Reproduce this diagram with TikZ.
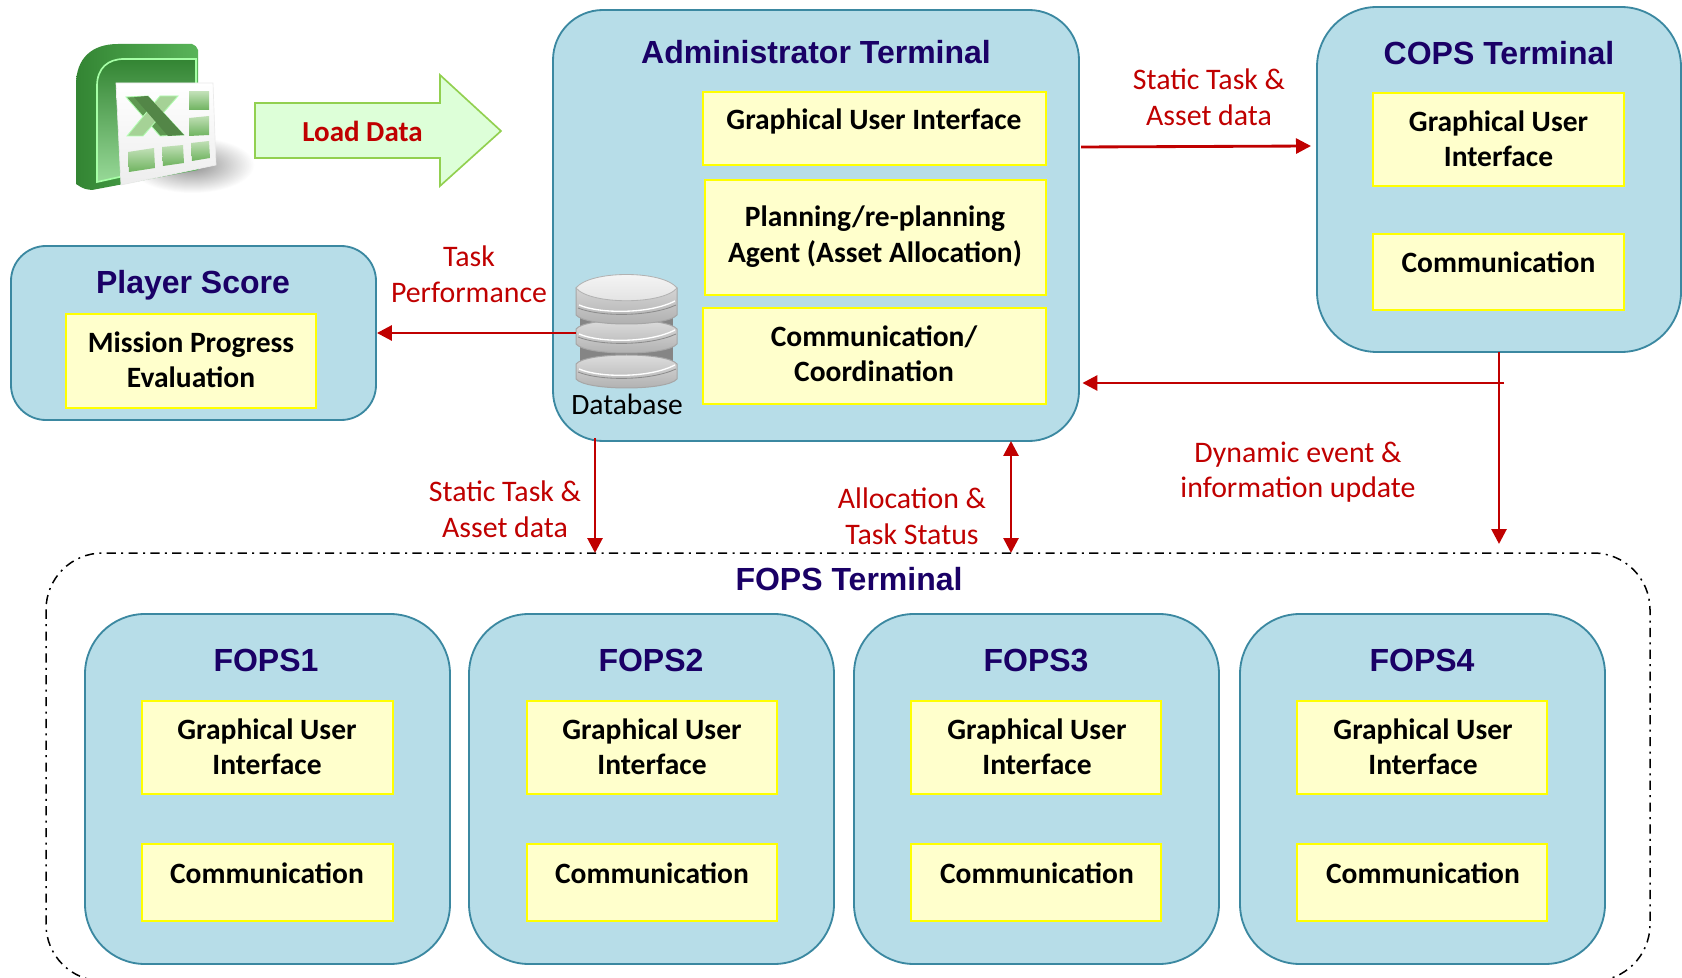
\documentclass[tikz,border=0pt]{standalone}
\usepackage{fontspec}
\setmainfont{Carlito}
\newfontfamily\titlefont{Liberation Sans}
\usetikzlibrary{arrows.meta,calc}
\definecolor{panelfill}{HTML}{B7DDE8}
\definecolor{paneledge}{HTML}{3B88A1}
\definecolor{boxfill}{HTML}{FFFFCC}
\definecolor{boxedge}{HTML}{FFFF00}
\definecolor{titleblue}{HTML}{1A0066}
\definecolor{linkred}{HTML}{C00000}
\definecolor{loadfill}{HTML}{DDFFD8}
\definecolor{loadedge}{HTML}{92D050}
\definecolor{cellgreen}{HTML}{A5D296}
\definecolor{celldark}{HTML}{6FB35F}
\tikzset{
  panelbox/.style={draw=paneledge,fill=panelfill,line width=1.1pt,inner sep=0pt},
  yellowbox/.style={draw=boxedge,fill=boxfill,line width=1.3pt,rectangle,inner sep=0pt},
  paneltitle/.style={font=\titlefont\bfseries\fontsize{19.2}{23}\selectfont,text=titleblue,inner sep=0pt},
  boxtext/.style={font=\bfseries\fontsize{17.7}{21.3}\selectfont,text=black,align=center,inner sep=0pt},
  linktext/.style={font=\fontsize{17.9}{21.3}\selectfont,text=linkred,align=center,inner sep=0pt},
  redlink/.style={draw=linkred,line width=1.7pt,-{Triangle[length=9pt,width=9pt]}},
  redlinktwo/.style={draw=linkred,line width=1.7pt,{Triangle[length=9pt,width=9pt]}-{Triangle[length=9pt,width=9pt]}},
}
% name, x1, y1, x2, y2 in reference pixels, extra options
\newcommand{\pxnode}[6]{%
  \pgfmathsetmacro{\pw}{(#4-#2)*0.6}\pgfmathsetmacro{\ph}{(#5-#3)*0.6}%
  \pgfmathsetmacro{\pcx}{(#2+#4)/2}\pgfmathsetmacro{\pcy}{(#3+#5)/2}%
  \node[#6,minimum width=\pw pt,minimum height=\ph pt] (#1) at (\pcx,\pcy) {};}
% one database platter: top y, bottom y
\newcommand{\platter}[2]{%
  \pgfmathsetmacro{\pa}{#1+12}\pgfmathsetmacro{\pb}{#2-12}\pgfmathsetmacro{\pc}{#1+24}%
  \pgfmathsetmacro{\pd}{#2-22}%
  \shade[top color=white!88!black,bottom color=black!32,draw=black!35,line width=0.6pt]
    (576,\pa) -- (576,\pb) .. controls (586,#2) and (667,#2) .. (677,\pb) -- (677,\pa)
    .. controls (667,#1) and (586,#1) .. (576,\pa) -- cycle;
  \draw[white,line width=0.8pt] (579,\pd) .. controls (600,{\pd+9}) and (650,{\pd+9}) .. (675,\pd-4);
  \draw[black!45,line width=0.5pt] (578,\pd+3) .. controls (600,{\pd+12}) and (650,{\pd+12}) .. (676,\pd);
}
% a spreadsheet cell as a slanted quadrilateral
\newcommand{\sheetcell}[8]{\shade[top color=cellgreen!70!white,bottom color=celldark] (#1,#2) -- (#3,#4) -- (#5,#6) -- (#7,#8) -- cycle;}
\begin{document}
\begin{tikzpicture}[x=0.6pt,y=-0.6pt]
\clip (0,0) rectangle (1682,978);
\fill[white] (0,0) rectangle (1682,978);

% FOPS terminal frame
\draw[black,line width=0.9pt,dash pattern=on 5.5pt off 3.2pt on 1.2pt off 3.2pt,rounded corners=34pt]
  (46,553) rectangle (1650,981);
\coordinate (fopstop) at (848,553);
\node[paneltitle] (fopsterm) at (849,579.5) {FOPS Terminal};

% Excel icon
\shade[inner color=black!55,outer color=white,opacity=.8] (192,165) ellipse [x radius=62,y radius=28];
\shade[left color=green!40!black!80!white,right color=green!55!black!65!white]
  (76,184) -- (76,85) .. controls (76,58) and (92,44) .. (118,44) -- (192,44) .. controls (196,46) .. (198,50) -- (198,170) -- (92,190) .. controls (84,189) .. (76,184) -- cycle;
\shade[top color=green!40!black!80!white,bottom color=green!30!white!85!black,draw=white!65!green,line width=1pt]
  (97,182) -- (97,86) .. controls (97,68) and (108,59) .. (124,59) -- (196,59) -- (196,160) -- cycle;
\shade[top color=white,bottom color=black!7,draw=black!8] (116,83) -- (213,83) -- (216,165) -- (121,185) -- cycle;
% the X
\draw[fill=celldark!85!black,draw=white!70!green,line width=0.5pt] (126,97) -- (148,96) -- (184,135) -- (160,136) -- cycle;
\draw[fill=cellgreen,draw=white!70!green,line width=0.5pt] (178,96) -- (160,96) -- (127,136) -- (143,136) -- cycle;
\draw[fill=celldark!75!black,draw=none] (134,97) -- (148,96) -- (184,135) -- (168,136) -- cycle;
% cells
\sheetcell{189}{92}{209}{92}{209}{110}{189}{110}
\sheetcell{189}{118}{209}{116}{209}{135}{189}{136}
\sheetcell{191}{143}{209}{141}{210}{158}{192}{161}
\sheetcell{162}{147}{183}{145}{184}{163}{163}{166}
\sheetcell{128}{152}{154}{148}{155}{168}{129}{172}

% Load Data arrow
\draw[draw=loadedge,fill=loadfill,line width=1pt]
  (255,103) -- (440,103) -- (440,75) -- (501,131) -- (440,186) -- (440,158) -- (255,158) -- cycle;
\node[font=\bfseries\fontsize{17.4}{21}\selectfont,text=linkred,inner sep=0pt] (loadlabel) at (362.5,131) {Load Data};

% Administrator terminal
\pxnode{admin}{553}{10}{1079}{441}{panelbox,rounded corners=30pt}
\node[paneltitle] (admintitle) at (816,52) {Administrator Terminal};
\pxnode{agui}{703}{92}{1046}{165}{yellowbox}
\node[boxtext] (aguit) at (874,121) {Graphical User Interface};
\pxnode{aplan}{705}{180}{1046}{295}{yellowbox}
\node[boxtext] (aplant) at (875,236.5) {Planning/re-planning\\Agent (Asset Allocation)};
\pxnode{acomm}{703}{308}{1046}{404}{yellowbox}
\node[boxtext] (acommt) at (874,353.5) {Communication/\\Coordination};

% Database
\pxnode{db}{576}{276}{677}{390}{inner sep=0pt}
\fill[black!48] (580,310) rectangle (673,335);
\fill[black!48] (580,345) rectangle (673,365);
\platter{352}{391}
\platter{317}{356}
\platter{276}{327}
\shade[top color=white!97!black,bottom color=black!12,draw=black!30,line width=0.5pt]
  (576,288) .. controls (590,270) and (663,270) .. (677,288) .. controls (663,305) and (590,305) .. (576,288) -- cycle;
\node[font=\fontsize{17.7}{21}\selectfont,text=black,inner sep=0pt] (dbname) at (627,404) {Database};

% COPS terminal
\pxnode{cops}{1317}{7}{1681}{352}{panelbox,rounded corners=36pt}
\node[paneltitle] (copstitle) at (1499,53) {COPS Terminal};
\pxnode{cgui}{1373}{93}{1624}{186}{yellowbox}
\node[boxtext] (cguit) at (1498.5,139) {Graphical User\\Interface};
\pxnode{ccomm}{1373}{234}{1624}{310}{yellowbox}
\node[boxtext] (ccommt) at (1498.5,262) {Communication};

% Player score
\pxnode{player}{11}{246}{376}{420}{panelbox,rounded corners=21pt}
\node[paneltitle] (playertitle) at (193,285) {Player Score};
\pxnode{pmission}{66}{314}{316}{408}{yellowbox}
\node[boxtext] (pmissiont) at (191,360) {Mission Progress\\Evaluation};

% FOPS panels
\foreach \nm/\xa/\xb/\bxa/\bxb/\ttl in {1/85/450/142/393/266,2/469/834/527/777/651,3/854/1219/911/1161/1036,4/1240/1605/1297/1547/1422}{
  \pxnode{fops\nm}{\xa}{614}{\xb}{964}{panelbox,rounded corners=36pt}
  \node[paneltitle] (fops\nm title) at (\ttl,660.5) {FOPS\nm};
  \pxnode{fops\nm gui}{\bxa}{701}{\bxb}{794}{yellowbox}
  \node[boxtext] (fops\nm guit) at (\ttl+1,747) {Graphical User\\Interface};
  \pxnode{fops\nm comm}{\bxa}{844}{\bxb}{921}{yellowbox}
  \node[boxtext] (fops\nm commt) at (\ttl+1,873) {Communication};
}

% Connectors
\coordinate (adminout) at (1081,147);
\coordinate (copsin) at (1311,146);
\draw[redlink] (adminout) -- (copsin);
\coordinate (copsdrop) at (1499,352);
\coordinate (fopsright) at (1499,544);
\draw[redlink] (copsdrop) -- (fopsright);
\coordinate (branch) at (1504,383);
\draw[redlink] (branch) -- ([xshift=1.5pt]admin.east |- branch);
\draw[redlink] (db.west |- 0,333) -- (player.east |- 0,333);
\coordinate (adminleft) at (595,438);
\draw[redlink] (adminleft) -- (adminleft |- fopstop);
\coordinate (adminmid) at (1011,441);
\draw[redlinktwo] (adminmid) -- (adminmid |- fopstop);

% Connector labels
\node[linktext] (l1) at (1209,97.5) {Static Task \&\\Asset data};
\node[linktext] (l2) at (469,274.5) {Task\\Performance};
\node[linktext] (l3) at (1298,472) {Dynamic event \&\\information update};
\node[linktext] (l4) at (505,509.5) {Static Task \&\\Asset data};
\node[linktext] (l5) at (912,516.5) {Allocation \&\\Task Status};
\end{tikzpicture}
\end{document}
